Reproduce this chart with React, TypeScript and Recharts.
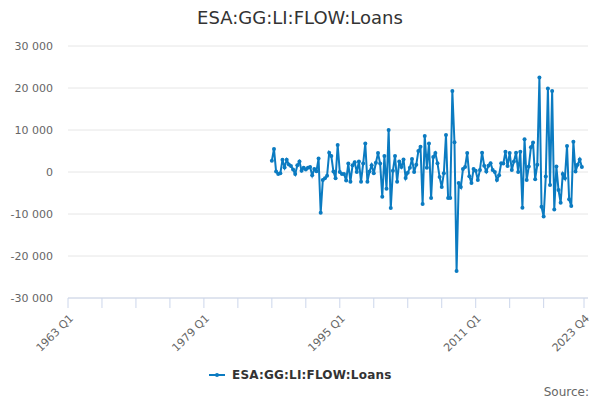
import { LineChart, Line, XAxis, YAxis, CartesianGrid } from 'recharts'

const START_YEAR = 1963
const END_YEAR = 2023
const FIRST_DATA_QUARTER = '1987 Q1'

// quarterly flows, 1987 Q1 .. 2023 Q3
const LOANS = [
  2700, 5500, 100, -500, -300, 2900, 1100, 2900, 1800, 1400, 600, -500,
  1600, 2500, 300, 1000, 600, 1000, 1200, -800, 700, 200, 3200, -9700,
  -1900, -1500, -900, 4600, 3800, 100, -1500, 6400, 0, -500, -500, -2000,
  2000, -2300, 1600, 2300, 0, 2500, -2300, 2000, 6800, -2300, 100, 1600,
  -300, 2200, 4500, 2000, -5900, 3800, -4000, 10000, -8600, 300, 3800, -2300,
  2500, 1200, 3000, -1400, -200, 1000, 3100, 0, 1700, 5000, 6000, -7600,
  8600, 1000, 6800, -6200, 3600, 4500, 2100, -1200, -3600, -300, 8800, -6200,
  -6200, 19300, 7100, -23600, -2600, -3600, 700, 1200, 4500, -1000, -2600, 700,
  300, -1900, 500, 4600, 1500, 100, 1500, 2100, 500, 0, -1900, -800,
  2100, 2000, 4800, 1400, 4500, 500, 2500, 4600, 0, 4800, -8500, 7800,
  -1900, 1300, 5900, 7000, -1700, 1700, 22500, -8300, -10600, -1100, 19900, -3100,
  19300, -8900, 1300, -4300, -7300, -500, -1500, 6200, -6500, -8100, 7200, 100,
  1700, 3000, 1200,
]

const Y_TICKS = [-30000, -20000, -10000, 0, 10000, 20000, 30000]
const X_LABELS = ['1963 Q1', '1979 Q1', '1995 Q1', '2011 Q1', '2023 Q4']

const QUARTERS: string[] = []
for (let y = START_YEAR; y <= END_YEAR; y++) {
  for (let q = 1; q <= 4; q++) QUARTERS.push(`${y} Q${q}`)
}

const X_TICKS = QUARTERS.filter((_, i) => i % 16 === 0 && i < QUARTERS.length - 8).concat(QUARTERS[QUARTERS.length - 1])

const first = QUARTERS.indexOf(FIRST_DATA_QUARTER)
const data = QUARTERS.map((period, i) => {
  const v = LOANS[i - first]
  return { period, value: v === undefined ? null : v }
})

const BLUE = '#0b7bc1'
const FONT = '"DejaVu Sans", Verdana, sans-serif'

const fmt = (v: number) => {
  const s = Math.abs(v).toString().replace(/\B(?=(\d{3})+(?!\d))/g, ' ')
  return v < 0 ? '-' + s : s
}

const XTick = (props: any) => {
  const { x, y, payload } = props
  if (!X_LABELS.includes(payload.value)) return null
  const tx = x + 6
  const ty = y + 9
  return (
    <text
      x={tx}
      y={ty}
      textAnchor="end"
      fill="#666"
      fontSize={11}
      fontFamily={FONT}
      transform={`rotate(-45, ${tx}, ${ty})`}
    >
      {payload.value}
    </text>
  )
}

export default function App() {
  return (
    <div style={{ position: 'absolute', left: 0, top: 0, width: 600, height: 400, background: '#fff', fontFamily: FONT }}>
      <div style={{ position: 'absolute', left: 0, top: 7, width: 600, textAlign: 'center', fontSize: 18, color: '#333', lineHeight: '22px' }}>
        ESA:GG:LI:FLOW:Loans
      </div>
      <LineChart width={600} height={400} data={data} margin={{ top: 46, right: 12, bottom: 42, left: 8 }}>
        <CartesianGrid vertical={false} stroke="#e6e6e6" />
        <XAxis
          dataKey="period"
          ticks={X_TICKS}
          interval={0}
          height={60}
          padding={{ left: 0, right: 4 }}
          axisLine={{ stroke: '#ccd6eb' }}
          tickLine={{ stroke: '#ccd6eb' }}
          tickSize={10}
          tick={<XTick />}
        />
        <YAxis
          domain={[-30000, 30000]}
          ticks={Y_TICKS}
          width={60}
          axisLine={false}
          tickLine={false}
          tickSize={0}
          tickMargin={15}
          tickFormatter={fmt}
          tick={{ fill: '#666', fontSize: 11, fontFamily: FONT }}
        />
        <Line
          type="linear"
          dataKey="value"
          stroke={BLUE}
          strokeWidth={2}
          dot={{ r: 2, fill: BLUE, stroke: BLUE, strokeWidth: 0 }}
          activeDot={false}
          connectNulls={false}
          isAnimationActive={false}
        />
      </LineChart>
      <div style={{ position: 'absolute', left: 209, top: 368, display: 'flex', alignItems: 'center', fontSize: 12, fontWeight: 'bold', color: '#333', letterSpacing: 0.2 }}>
        <svg width={18} height={10} style={{ marginRight: 5 }}>
          <line x1={0} y1={5} x2={16} y2={5} stroke={BLUE} strokeWidth={2} />
          <circle cx={8} cy={5} r={2} fill={BLUE} />
        </svg>
        ESA:GG:LI:FLOW:Loans
      </div>
      <div style={{ position: 'absolute', right: 11, top: 385, fontSize: 12, color: '#666' }}>Source:</div>
    </div>
  )
}
